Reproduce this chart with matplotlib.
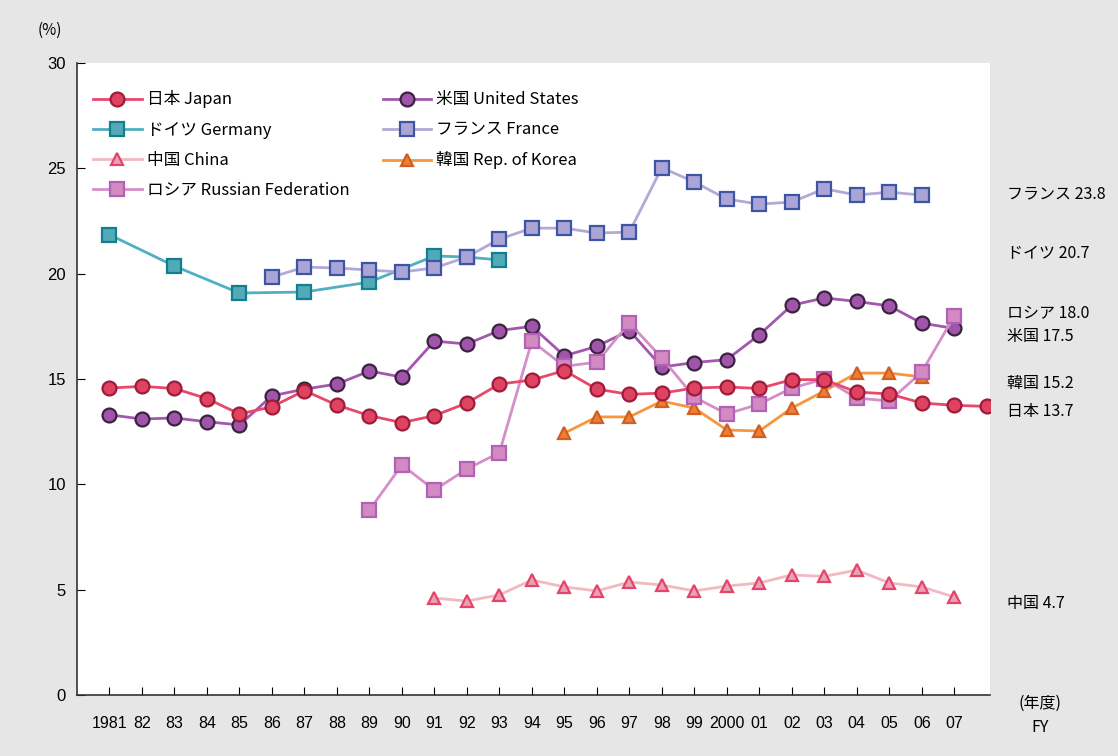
import numpy as np
import matplotlib
matplotlib.use("Agg")
import matplotlib.pyplot as plt

plt.rcParams['font.family'] = ['Noto Sans CJK JP', 'DejaVu Sans']

# ---------------- data ----------------
japan_years = list(range(1981, 2009))
japan = [14.57, 14.65, 14.55, 14.07, 13.34, 13.68, 14.45, 13.76, 13.26, 12.93,
         13.26, 13.86, 14.76, 14.95, 15.40, 14.52, 14.27, 14.33, 14.57, 14.62,
         14.55, 14.97, 14.97, 14.38, 14.29, 13.86, 13.75, 13.70]

us_years = list(range(1981, 2008))
us = [13.30, 13.10, 13.15, 12.97, 12.82, 14.20, 14.52, 14.76, 15.38, 15.09,
      16.80, 16.66, 17.30, 17.50, 16.10, 16.55, 17.30, 15.57, 15.78, 15.92,
      17.10, 18.50, 18.85, 18.68, 18.47, 17.65, 17.40]

germany_years = [1981, 1983, 1985, 1987, 1989, 1991, 1992, 1993]
germany = [21.85, 20.36, 19.08, 19.13, 19.60, 20.84, 20.79, 20.65]

france_years = list(range(1986, 2007))
france = [19.84, 20.31, 20.27, 20.17, 20.08, 20.27, 20.79, 21.64, 22.16, 22.16,
          21.93, 21.97, 25.03, 24.35, 23.54, 23.30, 23.40, 24.03, 23.73, 23.87,
          23.73]

china_years = list(range(1991, 2008))
china = [4.60, 4.46, 4.75, 5.46, 5.13, 4.94, 5.36, 5.22, 4.94, 5.17,
         5.32, 5.70, 5.63, 5.93, 5.32, 5.13, 4.65]

korea_years = list(range(1995, 2007))
korea = [12.43, 13.20, 13.20, 13.95, 13.62, 12.58, 12.53, 13.62, 14.43, 15.28,
         15.28, 15.10]

russia_years = list(range(1989, 2008))
russia = [8.78, 10.92, 9.73, 10.73, 11.50, 16.80, 15.60, 15.80, 17.66, 16.00,
          14.14, 13.34, 13.81, 14.57, 15.00, 14.10, 13.95, 15.33, 17.99]

series_labels = ['日本 Japan', '米国 United States', 'ドイツ Germany', 'フランス France',
                 '中国 China', '韓国 Rep. of Korea', 'ロシア Russian Federation']

tick_years = list(range(1981, 2008))
tick_labels = ['1981', '82', '83', '84', '85', '86', '87', '88', '89', '90', '91',
               '92', '93', '94', '95', '96', '97', '98', '99', '2000', '01', '02',
               '03', '04', '05', '06', '07']
y_ticks = [0, 5, 10, 15, 20, 25, 30]

end_labels = ['フランス 23.8', 'ドイツ 20.7', 'ロシア 18.0', '米国 17.5',
              '韓国 15.2', '日本 13.7', '中国 4.7']
end_label_y = [23.8, 20.95, 18.1, 17.0, 14.8, 13.45, 4.35]

# ---------------- figure ----------------
W, H = 1118, 756
fig = plt.figure(figsize=(W / 100, H / 100), dpi=100)
fig.patch.set_facecolor('#e6e6e6')
ax = fig.add_axes([77 / W, (H - 695) / H, 913 / W, 632 / H])
ax.set_facecolor('white')

styles = {
    'japan':   dict(color='#e8496a', marker='o', mfc='#e0435f', mec='#9c1c3a', ms=10, lw=2.0),
    'us':      dict(color='#a457b0', marker='o', mfc='#a055aa', mec='#3b2340', ms=10, lw=2.0),
    'germany': dict(color='#4fb0c0', marker='s', mfc='#52a9b8', mec='#137f8e', ms=9.5, lw=2.0),
    'france':  dict(color='#b3a9d8', marker='s', mfc='#aba4d6', mec='#3d55a3', ms=9.5, lw=2.0),
    'china':   dict(color='#f2b9c2', marker='^', mfc='#e7a3b3', mec='#e5446a', ms=9, lw=2.0),
    'korea':   dict(color='#f7963c', marker='^', mfc='#ef7d34', mec='#cf5f22', ms=9, lw=2.0),
    'russia':  dict(color='#d48ec8', marker='s', mfc='#d389c2', mec='#b162b5', ms=10.5, lw=2.0),
}

h = {}
h['japan'], = ax.plot(japan_years, japan, mew=1.6, **styles['japan'], zorder=6)
h['us'], = ax.plot(us_years, us, mew=1.6, **styles['us'], zorder=5)
h['germany'], = ax.plot(germany_years, germany, mew=1.6, **styles['germany'], zorder=4)
h['france'], = ax.plot(france_years, france, mew=1.6, **styles['france'], zorder=4)
h['china'], = ax.plot(china_years, china, mew=1.6, **styles['china'], zorder=4)
h['korea'], = ax.plot(korea_years, korea, mew=1.6, **styles['korea'], zorder=4)
h['russia'], = ax.plot(russia_years, russia, mew=1.6, **styles['russia'], zorder=5)

ax.set_xlim(1980, 2008.1)
ax.set_ylim(0, 30)
ax.set_xticks(tick_years)
ax.set_xticklabels(tick_labels, fontsize=11.5, family=['Liberation Sans', 'DejaVu Sans'])
ax.set_yticks(y_ticks)
ax.set_yticklabels([str(v) for v in y_ticks], fontsize=12, family=['Liberation Sans', 'DejaVu Sans'])
ax.tick_params(axis='x', direction='in', length=6, pad=15, colors='black')
ax.tick_params(axis='y', direction='in', length=6, pad=8, colors='black')
for s in ['top', 'right']:
    ax.spines[s].set_visible(False)
for s in ['left', 'bottom']:
    ax.spines[s].set_color('#333333')
    ax.spines[s].set_linewidth(1.2)

order = ['japan', 'germany', 'china', 'russia', 'us', 'france', 'korea']
lab = {'japan': series_labels[0], 'us': series_labels[1], 'germany': series_labels[2],
       'france': series_labels[3], 'china': series_labels[4], 'korea': series_labels[5],
       'russia': series_labels[6]}
leg = ax.legend([h[k] for k in order], [lab[k] for k in order], ncol=2, frameon=False,
                loc='upper left', bbox_to_anchor=(0.005, 0.975), fontsize=12,
                handlelength=2.9, handletextpad=0.3, labelspacing=0.78, columnspacing=2.0,
                borderaxespad=0.3)

for txt, yv in zip(end_labels, end_label_y):
    ax.annotate(txt, xy=(1.0, yv), xycoords=('axes fraction', 'data'),
                xytext=(12, 0), textcoords='offset points', va='center', ha='left',
                fontsize=11.5, annotation_clip=False)

fig.text(50 / W, 1 - 30 / H, '(%)', ha='center', va='center', fontsize=11)
fig.text(1040 / W, 1 - 703 / H, '(年度)', ha='center', va='center', fontsize=11.5)
fig.text(1040 / W, 1 - 727 / H, 'FY', ha='center', va='center', fontsize=11.5)

fig.savefig('out.png', dpi=100, facecolor=fig.get_facecolor())
